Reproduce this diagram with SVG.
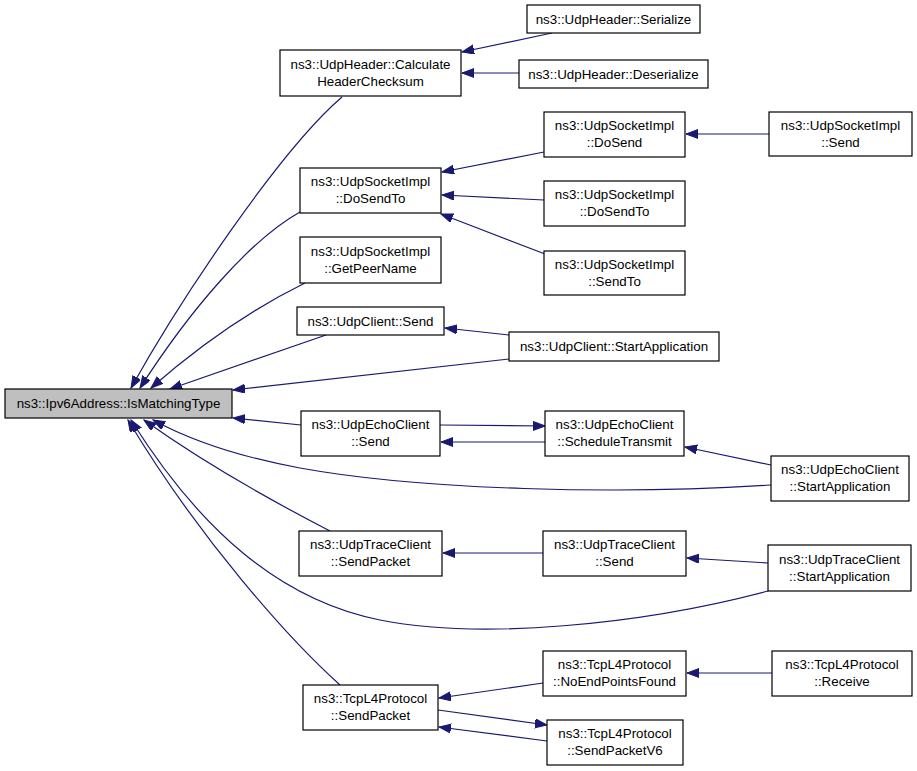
<svg xmlns="http://www.w3.org/2000/svg" width="917" height="771" viewBox="0 0 917 771">
<style>
.node rect{fill:#ffffff;stroke:#000000;stroke-width:1.2}
.node.main rect{fill:#bfbfbf}
.node text{font-family:"Liberation Sans",Arial,Helvetica,sans-serif;font-size:13.33px;text-anchor:middle;fill:#000000}
.edges path{fill:none;stroke:#191970;stroke-width:1.2;marker-end:url(#arr)}
</style>
<defs>
<marker id="arr" markerUnits="userSpaceOnUse" markerWidth="13" markerHeight="10" refX="12" refY="4.5" orient="auto">
<path d="M0,0 L12,4.5 L0,9 z" fill="#191970" stroke="#191970" stroke-width="1"/>
</marker>
</defs>
<rect width="917" height="771" fill="#ffffff"/>
<g class="edges">
<path d="M342,97 C280,150 180,300 131,388"/>
<path d="M552,33 L462,52"/>
<path d="M519,73 L462,73"/>
<path d="M300,212 C250,240 190,310 140,388"/>
<path d="M544,152 L442,172"/>
<path d="M769,134 L686,134"/>
<path d="M544,200 L442,195"/>
<path d="M545,254 L441,214"/>
<path d="M305,283 C250,310 200,345 151,388"/>
<path d="M326,335 L170,389"/>
<path d="M509,335 L445,328"/>
<path d="M509,359 L233,390"/>
<path d="M301,425 L233,418"/>
<path d="M440,425 L545,426"/>
<path d="M545,442 L441,442"/>
<path d="M771,465 L685,447"/>
<path d="M771,485 C620,495 420,490 300,468 C240,457 190,440 153,420"/>
<path d="M330,531 C270,500 200,460 144,420"/>
<path d="M543,553 L443,553"/>
<path d="M768,563 L687,558"/>
<path d="M768,591 C640,625 480,640 380,620 C280,600 200,530 131,420"/>
<path d="M340,685 C290,640 200,540 128,420"/>
<path d="M543,683 L439,698"/>
<path d="M438,710 L547,725"/>
<path d="M547,741 L439,727"/>
<path d="M772,673 L687,673"/>
</g>
<g id="n0" class="node main"><rect x="5" y="389" width="227" height="29"/><text x="118.5" y="408.3">ns3::Ipv6Address::IsMatchingType</text></g>
<g id="n1" class="node"><rect x="280" y="50" width="181" height="46"/><text x="370.5" y="68.5">ns3::UdpHeader::Calculate</text><text x="370.5" y="85.5">HeaderChecksum</text></g>
<g id="n2" class="node"><rect x="527" y="5" width="173" height="28"/><text x="613.5" y="23.8">ns3::UdpHeader::Serialize</text></g>
<g id="n3" class="node"><rect x="519" y="60" width="189" height="28"/><text x="613.5" y="78.8">ns3::UdpHeader::Deserialize</text></g>
<g id="n4" class="node"><rect x="300" y="168" width="141" height="45"/><text x="370.5" y="186">ns3::UdpSocketImpl</text><text x="370.5" y="203">::DoSendTo</text></g>
<g id="n5" class="node"><rect x="544" y="112" width="141" height="45"/><text x="614.5" y="130">ns3::UdpSocketImpl</text><text x="614.5" y="147">::DoSend</text></g>
<g id="n6" class="node"><rect x="769" y="112" width="143" height="44"/><text x="840.5" y="129.5">ns3::UdpSocketImpl</text><text x="840.5" y="146.5">::Send</text></g>
<g id="n7" class="node"><rect x="544" y="181" width="141" height="45"/><text x="614.5" y="199">ns3::UdpSocketImpl</text><text x="614.5" y="216">::DoSendTo</text></g>
<g id="n8" class="node"><rect x="544" y="251" width="141" height="44"/><text x="614.5" y="268.5">ns3::UdpSocketImpl</text><text x="614.5" y="285.5">::SendTo</text></g>
<g id="n9" class="node"><rect x="300" y="237" width="141" height="46"/><text x="370.5" y="255.5">ns3::UdpSocketImpl</text><text x="370.5" y="272.5">::GetPeerName</text></g>
<g id="n10" class="node"><rect x="297" y="307" width="147" height="28"/><text x="370.5" y="325.8">ns3::UdpClient::Send</text></g>
<g id="n11" class="node"><rect x="509" y="332" width="210" height="29"/><text x="614" y="351.3">ns3::UdpClient::StartApplication</text></g>
<g id="n12" class="node"><rect x="301" y="411" width="139" height="45"/><text x="370.5" y="429">ns3::UdpEchoClient</text><text x="370.5" y="446">::Send</text></g>
<g id="n13" class="node"><rect x="545" y="411" width="139" height="45"/><text x="614.5" y="429">ns3::UdpEchoClient</text><text x="614.5" y="446">::ScheduleTransmit</text></g>
<g id="n14" class="node"><rect x="771" y="456" width="138" height="45"/><text x="840" y="474">ns3::UdpEchoClient</text><text x="840" y="491">::StartApplication</text></g>
<g id="n15" class="node"><rect x="299" y="531" width="143" height="45"/><text x="370.5" y="549">ns3::UdpTraceClient</text><text x="370.5" y="566">::SendPacket</text></g>
<g id="n16" class="node"><rect x="543" y="531" width="143" height="45"/><text x="614.5" y="549">ns3::UdpTraceClient</text><text x="614.5" y="566">::Send</text></g>
<g id="n17" class="node"><rect x="768" y="545" width="143" height="46"/><text x="839.5" y="563.5">ns3::UdpTraceClient</text><text x="839.5" y="580.5">::StartApplication</text></g>
<g id="n18" class="node"><rect x="303" y="685" width="135" height="45"/><text x="370.5" y="703">ns3::TcpL4Protocol</text><text x="370.5" y="720">::SendPacket</text></g>
<g id="n19" class="node"><rect x="543" y="651" width="143" height="45"/><text x="614.5" y="669">ns3::TcpL4Protocol</text><text x="614.5" y="686">::NoEndPointsFound</text></g>
<g id="n20" class="node"><rect x="547" y="720" width="136" height="45"/><text x="615" y="738">ns3::TcpL4Protocol</text><text x="615" y="755">::SendPacketV6</text></g>
<g id="n21" class="node"><rect x="772" y="651" width="140" height="45"/><text x="842" y="669">ns3::TcpL4Protocol</text><text x="842" y="686">::Receive</text></g>
</svg>
